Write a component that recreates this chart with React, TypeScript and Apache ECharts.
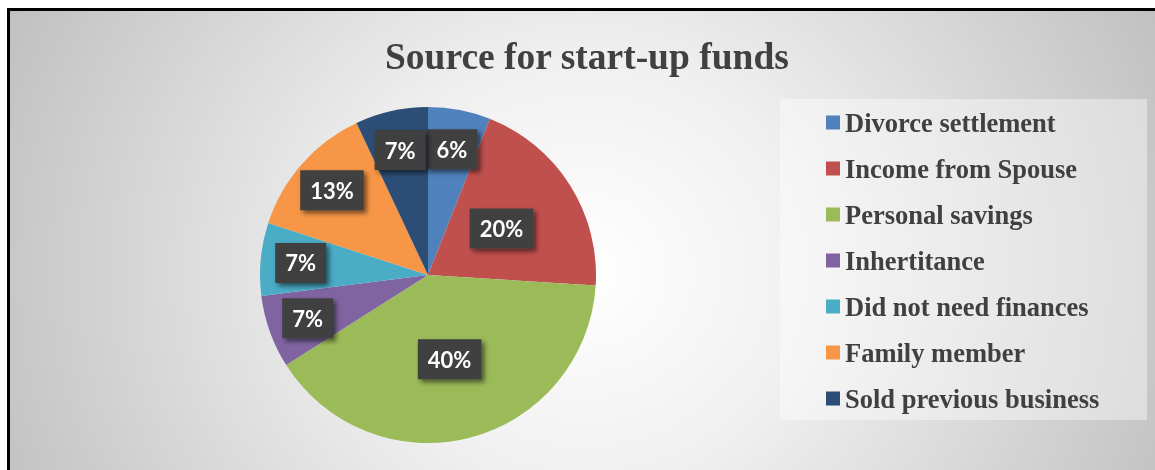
import React, { useEffect, useRef } from "react";
import * as echarts from "echarts";

const titleText = "Source for start-up funds";
const categories = [
  "Divorce settlement",
  "Income from Spouse",
  "Personal savings",
  "Inhertitance",
  "Did not need finances",
  "Family member",
  "Sold previous business",
];
const values = [6, 20, 40, 7, 7, 13, 7];
const colors = ["#4F81BD", "#C0504D", "#9BBB59", "#8064A2", "#4BACC6", "#F79646", "#2C4D75"];
// which labels Excel placed near the middle of the radius (others sit nearer the rim)
const labelNearCenter = [false, true, true, false, false, false, false];

const labelStyle = {
  color: "#ffffff",
  fontFamily: "Lato",
  fontWeight: "bold" as const,
  fontSize: 22,
  lineHeight: 24,
  backgroundColor: "#404040",
  padding: [8, 10, 8, 10],
  shadowColor: "rgba(0,0,0,0.55)",
  shadowBlur: 5,
  shadowOffsetX: 3,
  shadowOffsetY: 3,
  formatter: "{c}%",
};

export default function App() {
  const ref = useRef<HTMLDivElement>(null);
  useEffect(() => {
    document.body.style.margin = "0";
    document.body.style.overflow = "hidden";
    const chart = echarts.init(ref.current!, null, { renderer: "svg" });
    const center = [418, 264];
    chart.setOption({
      animation: false,
      backgroundColor: "transparent",
      color: colors,
      title: {
        text: titleText,
        left: 375,
        top: 26,
        padding: 0,
        textStyle: {
          fontFamily: "Liberation Serif",
          fontWeight: "bold",
          fontSize: 37.5,
          color: "#404040",
        },
      },
      graphic: [
        {
          type: "rect",
          shape: { x: 770, y: 88, width: 367, height: 321 },
          style: { fill: "rgba(255,255,255,0.4)" },
          silent: true,
          z: -1,
        },
      ],
      legend: {
        orient: "vertical",
        left: 816,
        top: 98,
        padding: 0,
        itemGap: 19,
        itemWidth: 14,
        itemHeight: 14,
        icon: "rect",
        data: categories,
        textStyle: {
          fontFamily: "Liberation Serif",
          fontWeight: "bold",
          fontSize: 26.5,
          lineHeight: 26,
          color: "#404040",
        },
      },
      series: [
        {
          type: "pie",
          center,
          radius: 168,
          startAngle: 90,
          clockwise: true,
          silent: true,
          itemStyle: { borderWidth: 0 },
          label: { show: true, position: "inside", ...labelStyle },
          labelLine: { show: false },
          data: categories.map((name, i) => ({
            name,
            value: values[i],
            itemStyle: { color: colors[i] },
            label: { show: labelNearCenter[i] },
          })),
        },
        {
          type: "pie",
          center,
          radius: 250,
          startAngle: 90,
          clockwise: true,
          silent: true,
          itemStyle: { color: "rgba(0,0,0,0)", borderWidth: 0 },
          emphasis: { disabled: true },
          label: { show: true, position: "inside", ...labelStyle },
          labelLine: { show: false },
          data: categories.map((name, i) => ({
            name,
            value: values[i],
            label: { show: !labelNearCenter[i] },
          })),
        },
      ],
    });
    return () => chart.dispose();
  }, []);
  return (
    <div
      style={{
        position: "fixed",
        left: 7,
        top: 8,
        width: 1145,
        height: 459,
        borderTop: "3px solid #000",
        borderLeft: "3px solid #000",
        background:
          "radial-gradient(640px 600px at 575px 260px, #ffffff 0%, #f0f0f0 35%, #c0c0c0 100%)",
      }}
    >
      <div ref={ref} style={{ width: 1145, height: 459 }} />
    </div>
  );
}
